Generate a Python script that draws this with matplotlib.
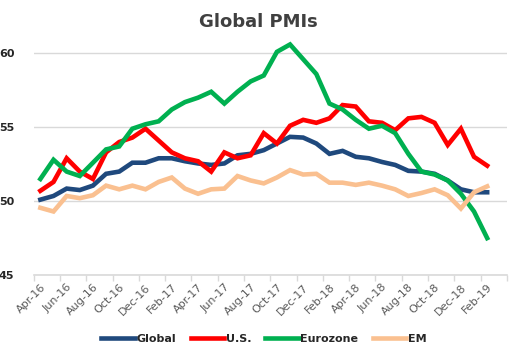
import numpy as np
import matplotlib
matplotlib.use("Agg")
import matplotlib.pyplot as plt

# month labels shown on the axis (every 2nd month)
labels = ["Apr-16", "Jun-16", "Aug-16", "Oct-16", "Dec-16", "Feb-17", "Apr-17", "Jun-17",
          "Aug-17", "Oct-17", "Dec-17", "Feb-18", "Apr-18", "Jun-18", "Aug-18", "Oct-18",
          "Dec-18", "Feb-19"]
n_cats = 36  # category slots on the axis

global_pmi = [50.1, 50.35, 50.85, 50.75, 51.05, 51.85, 52.0, 52.6, 52.6, 52.9, 52.9, 52.7,
              52.55, 52.45, 52.55, 53.1, 53.2, 53.45, 53.9, 54.35, 54.3, 53.9, 53.2, 53.4,
              53.0, 52.9, 52.65, 52.45, 52.05, 52.0, 51.85, 51.4, 50.8, 50.6, 50.6]
us_pmi = [50.7, 51.3, 52.9, 52.0, 51.5, 53.3, 54.0, 54.3, 54.9, 54.1, 53.3, 52.9, 52.7,
          52.0, 53.3, 52.9, 53.1, 54.6, 53.9, 55.1, 55.5, 55.3, 55.6, 56.5, 56.4, 55.4,
          55.3, 54.8, 55.6, 55.7, 55.3, 53.8, 54.9, 53.0, 52.4]
ez_pmi = [51.5, 52.8, 52.0, 51.7, 52.6, 53.5, 53.7, 54.9, 55.2, 55.4, 56.2, 56.7, 57.0,
          57.4, 56.6, 57.4, 58.1, 58.5, 60.1, 60.6, 59.6, 58.6, 56.6, 56.2, 55.5, 54.9,
          55.1, 54.6, 53.2, 52.0, 51.8, 51.4, 50.5, 49.3, 47.5]
em_pmi = [49.55, 49.3, 50.35, 50.2, 50.4, 51.05, 50.8, 51.05, 50.8, 51.3, 51.6, 50.85,
          50.5, 50.8, 50.85, 51.7, 51.4, 51.2, 51.6, 52.1, 51.8, 51.85, 51.25, 51.25,
          51.1, 51.25, 51.05, 50.8, 50.35, 50.55, 50.8, 50.4, 49.5, 50.6, 51.0]

series = [("Global", global_pmi, "#1F497D"),
          ("U.S.", us_pmi, "#FF0000"),
          ("Eurozone", ez_pmi, "#00B050"),
          ("EM", em_pmi, "#FAC090")]

fig = plt.figure(figsize=(5.28, 3.54), dpi=100)
ax = fig.add_axes([0.064, 0.223, 0.896, 0.689])

x = np.arange(len(global_pmi))
for name, vals, col in series:
    ax.plot(x, vals, color=col, lw=3.3, label=name, solid_joinstyle="miter")

ax.set_xlim(-0.5, n_cats - 0.5)
ax.set_ylim(45, 61.5)
ax.set_yticks([45, 50, 55, 60])
ax.yaxis.grid(True, color="#D9D9D9", lw=1)
ax.set_axisbelow(True)
for s in ["top", "right", "left"]:
    ax.spines[s].set_visible(False)
ax.spines["bottom"].set_color("#D9D9D9")
ax.spines["bottom"].set_linewidth(1.2)

# tick marks sit between categories, labels on every 2nd category
ax.set_xticks(np.arange(-0.5, n_cats, 2))
ax.set_xticklabels([])
ax.tick_params(axis="x", which="major", length=4, color="#D9D9D9", width=1)
ax.set_xticks(np.arange(0, 2 * len(labels), 2), minor=True)
ax.set_xticklabels(labels, minor=True, rotation=45, ha="right", rotation_mode="anchor",
                   fontsize=8, color="#595959")
ax.tick_params(axis="x", which="minor", length=0, pad=5)
ax.tick_params(axis="y", length=0, pad=14)
for t in ax.get_yticklabels():
    t.set_fontweight("bold")
    t.set_fontsize(8)
    t.set_color("#262626")

fig.text(0.49, 0.938, "Global PMIs", ha="center", va="center", fontsize=13,
         fontweight="bold", color="#404040")

leg = fig.legend(loc="center", bbox_to_anchor=(0.5, 0.042), ncol=4, frameon=False,
                 handlelength=3.0, handletextpad=0.15, columnspacing=1.3,
                 prop={"size": 8, "weight": "bold"})
for t in leg.get_texts():
    t.set_color("#262626")

fig.savefig("out.png", dpi=100)
plt.close()
